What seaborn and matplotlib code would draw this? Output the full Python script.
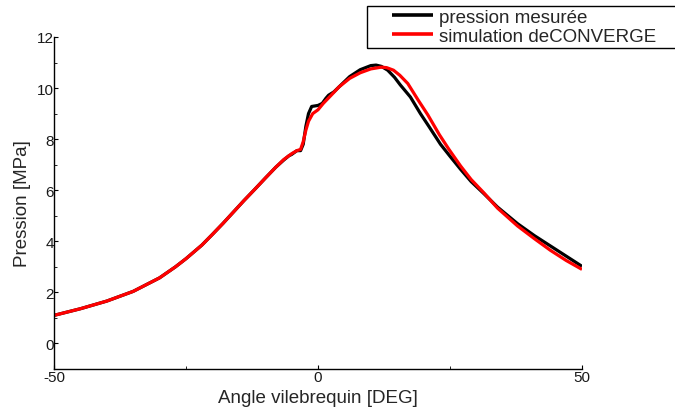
import numpy as np
import pandas as pd
import matplotlib
matplotlib.use("Agg")
import matplotlib.pyplot as plt
import seaborn as sns
from matplotlib.ticker import MultipleLocator
from matplotlib.legend_handler import HandlerLine2D
from matplotlib.patches import Rectangle

# Crank angle [deg] and cylinder pressure [MPa]
angle_mes = [-50, -45, -40, -35, -30, -27, -25, -22, -20, -18, -16, -14, -12, -10,
             -8, -6.5, -5.5, -5, -4, -3.3, -2.8, -2.3, -1.8, -1.2, 0, 0.8, 1.5, 2,
             3, 4, 6, 8, 10, 11, 12, 13.2, 14.5, 15.6, 17.5, 19.4, 21, 23.2, 25,
             27, 29, 31.4, 34, 37.8, 41, 44, 47, 50]
p_mes = [1.1, 1.36, 1.66, 2.04, 2.57, 3.0, 3.32, 3.85, 4.27, 4.7, 5.15, 5.6, 6.03,
         6.47, 6.9, 7.18, 7.35, 7.4, 7.55, 7.55, 7.8, 8.5, 9.0, 9.28, 9.32, 9.4,
         9.6, 9.72, 9.85, 10.05, 10.45, 10.72, 10.88, 10.9, 10.85, 10.7, 10.42,
         10.12, 9.65, 9.0, 8.5, 7.8, 7.33, 6.82, 6.34, 5.87, 5.34, 4.69, 4.22,
         3.82, 3.42, 3.02]

angle_sim = [-50, -45, -40, -35, -30, -27, -25, -22, -20, -18, -16, -14, -12, -10,
             -8, -6.5, -5, -4, -3.3, -2.8, -2.3, -1.8, -1, 0, 1, 2.4, 4, 6, 8, 10,
             12, 13, 14.3, 15.5, 17, 19, 20.8, 23, 24.8, 27, 29, 31.4, 34, 37.8,
             41, 44, 47, 50]
p_sim = [1.1, 1.36, 1.66, 2.04, 2.57, 3.0, 3.32, 3.85, 4.27, 4.7, 5.15, 5.6, 6.03,
         6.47, 6.9, 7.2, 7.43, 7.55, 7.6, 7.9, 8.35, 8.7, 9.0, 9.15, 9.4, 9.7,
         10.05, 10.38, 10.6, 10.75, 10.82, 10.8, 10.7, 10.5, 10.18, 9.52, 8.95,
         8.17, 7.6, 6.95, 6.42, 5.9, 5.3, 4.6, 4.1, 3.65, 3.25, 2.9]

label_mes = "pression mesurée"
label_sim = "simulation deCONVERGE"

df = pd.concat([
    pd.DataFrame({"angle": angle_mes, "p": p_mes, "serie": label_mes}),
    pd.DataFrame({"angle": angle_sim, "p": p_sim, "serie": label_sim}),
], ignore_index=True)


class InsetLineHandler(HandlerLine2D):
    """Legend line drawn only over the right part of the handle slot."""

    def __init__(self, start_frac=0.35, **kw):
        super().__init__(**kw)
        self.start_frac = start_frac

    def create_artists(self, legend, orig_handle, xdescent, ydescent,
                       width, height, fontsize, trans):
        artists = super().create_artists(legend, orig_handle, xdescent,
                                         ydescent, width, height, fontsize,
                                         trans)
        x0 = -xdescent + self.start_frac * width
        x1 = -xdescent + width
        for a in artists:
            xd = a.get_xdata()
            if len(xd) >= 2:
                a.set_xdata([x0, x1])
                a.set_ydata([a.get_ydata()[0]] * 2)
        return artists


sns.set_style("white")
plt.rcParams["font.family"] = ["Liberation Sans", "DejaVu Sans"]
plt.rcParams["axes.unicode_minus"] = False

W, H = 675, 410
fig = plt.figure(figsize=(W / 100, H / 100), dpi=100)
ax = fig.add_axes([54 / W, 40 / H, 528 / W, 332 / H])

sns.lineplot(data=df, x="angle", y="p", hue="serie", sort=False,
             palette={label_mes: "black", label_sim: "#ff0000"},
             linewidth=2.3, ax=ax, legend=True)
for line in ax.get_lines():
    line.set_solid_joinstyle("round")
    line.set_solid_capstyle("butt")

ax.set_xlim(-50, 50)
ax.set_ylim(-1, 12)
ax.xaxis.set_major_locator(MultipleLocator(50))
ax.xaxis.set_minor_locator(MultipleLocator(25))
ax.yaxis.set_major_locator(MultipleLocator(2))
ax.yaxis.set_minor_locator(MultipleLocator(1))
ax.tick_params(which="both", direction="in", colors="black", labelsize=11,
               labelcolor="#1a1a1a")
ax.tick_params(which="major", length=3, width=0.8)
ax.tick_params(axis="y", which="major", pad=0)
ax.tick_params(axis="x", which="major", pad=1)
ax.tick_params(which="minor", length=2, width=0.6)
ax.tick_params(axis="y", which="both", left=True)
ax.tick_params(axis="x", which="both", bottom=True)

for side in ("top", "right"):
    ax.spines[side].set_visible(False)
for side in ("left", "bottom"):
    ax.spines[side].set_color("black")
    ax.spines[side].set_linewidth(1.0)

ax.set_xlabel("Angle vilebrequin [DEG]", fontsize=13.5, labelpad=3)
ax.set_ylabel("Pression [MPa]", fontsize=13.5, labelpad=4)

handles, labels = ax.get_legend_handles_labels()
leg = ax.legend(handles, labels, loc="upper left",
                bbox_to_anchor=(367 / W, 1 - 7 / H),
                bbox_transform=fig.transFigure, fontsize=13.5, frameon=False,
                handlelength=3.36, handletextpad=0.33, borderpad=0.15,
                labelspacing=0.08, borderaxespad=0,
                handler_map={h: InsetLineHandler() for h in handles})
for line in leg.get_lines():
    line.set_linewidth(2.6)

# legend frame, running on past the right edge of the figure
fig.patches.append(Rectangle((367 / W, 1 - 49 / H), 320 / W, 42 / H,
                             transform=fig.transFigure, fill=False,
                             edgecolor="black", linewidth=1.0, zorder=5))

fig.savefig("out.png", dpi=100, facecolor="white")
